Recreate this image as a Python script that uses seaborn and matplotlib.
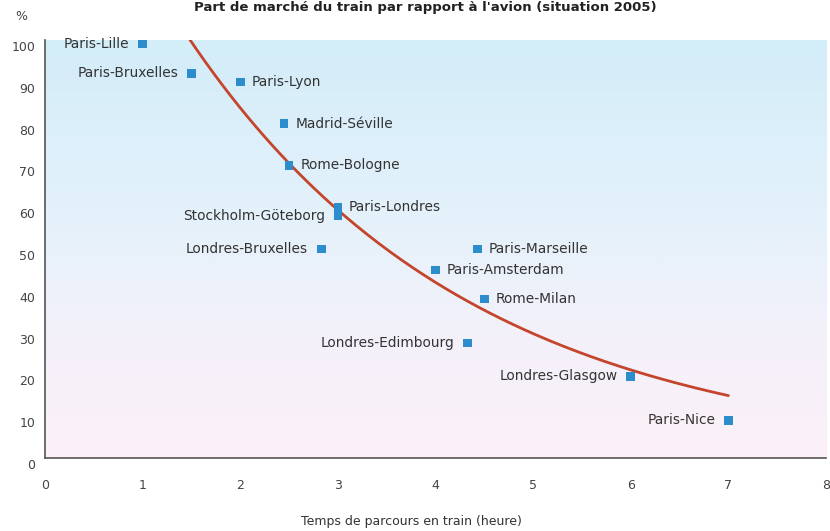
import numpy as np
import pandas as pd
import matplotlib
matplotlib.use("Agg")
import matplotlib.pyplot as plt
import matplotlib.transforms as mtransforms
from matplotlib.colors import LinearSegmentedColormap
import seaborn as sns

# Liaisons ferroviaires : temps de parcours (heures) et part de marché du train (%)
liaisons = ["Paris-Lille", "Paris-Bruxelles", "Paris-Lyon", "Madrid-Séville",
            "Rome-Bologne", "Paris-Londres", "Stockholm-Göteborg",
            "Londres-Bruxelles", "Paris-Marseille", "Paris-Amsterdam",
            "Rome-Milan", "Londres-Edimbourg", "Londres-Glasgow", "Paris-Nice"]
temps_train = [1.0, 1.5, 2.0, 2.45, 2.5, 3.0, 3.0, 2.83, 4.43, 4.0, 4.5, 4.33, 6.0, 7.0]
part_train = [99, 92, 90, 80, 70, 60, 58, 50, 50, 45, 38, 27.5, 19.5, 9]
# côté de l'étiquette : g = à gauche du point, d = à droite
cote_etiquette = ["g", "g", "d", "d", "d", "d", "g", "g", "d", "d", "d", "g", "g", "g"]

# Courbe d'ajustement exponentielle : part = a * exp(-b * temps)
courbe_a = 167.0
courbe_b = 0.345
courbe_debut, courbe_fin = 1.3, 7.0

x_ticks = list(range(0, 9))
y_ticks = list(range(0, 101, 10))

titre = "Part de marché du train par rapport à l'avion (situation 2005)"
titre_x = "Temps de parcours en train (heure)"

df = pd.DataFrame({"liaison": liaisons, "temps": temps_train, "part": part_train,
                   "cote": cote_etiquette})
t = np.linspace(courbe_debut, courbe_fin, 200)
courbe = pd.DataFrame({"temps": t, "part": courbe_a * np.exp(-courbe_b * t)})

sns.set_theme(style="white")
plt.rcParams["font.family"] = ["DejaVu Sans"]

fig = plt.figure(figsize=(8.3, 5.31), dpi=100)
ax = fig.add_axes([0.0542, 0.1375, 0.941, 0.7872])

# fond dégradé : bleu clair en haut, rose pâle en bas
fond = LinearSegmentedColormap.from_list(
    "fond", [(0.0, "#fcf0f8"), (0.3, "#f3f1fa"), (0.6, "#e3f1fb"), (1.0, "#d3edf9")])
grad = np.linspace(0, 1, 256).reshape(-1, 1)
ax.imshow(grad, cmap=fond, origin="lower", aspect="auto",
          extent=[0, 8, 0, 100], zorder=0)

sns.lineplot(data=courbe, x="temps", y="part", ax=ax, color="#c4452c",
             linewidth=2.0, zorder=2)
sns.scatterplot(data=df, x="temps", y="part", ax=ax, marker="s", s=38,
                color="#2b8dcb", edgecolor="none", zorder=3, clip_on=False)

for _, r in df.iterrows():
    if r["cote"] == "g":
        dx, ha = -9.5, "right"
    else:
        dx, ha = 8, "left"
    ax.annotate(r["liaison"], (r["temps"], r["part"]), xytext=(dx, 0),
                textcoords="offset points", ha=ha, va="center",
                fontsize=9.9, color="#333333", zorder=4)

ax.set_xlim(0, 8)
ax.set_ylim(0, 100)
ax.set_xticks(x_ticks)
ax.set_yticks(y_ticks)
ax.set_xlabel("")
ax.set_ylabel("")

for s in ["top", "right"]:
    ax.spines[s].set_visible(False)
for s in ["left", "bottom"]:
    ax.spines[s].set_color("#555555")
    ax.spines[s].set_linewidth(1.2)

ax.tick_params(axis="both", direction="in", length=7, width=1, color="#666666",
               labelsize=9, labelcolor="#444444")
ax.tick_params(axis="y", pad=7)
ax.tick_params(axis="x", pad=15)

decal = mtransforms.ScaledTranslation(0, -6 / 100, fig.dpi_scale_trans)
for tk in ax.yaxis.get_major_ticks():
    tk.label1.set_transform(tk.label1.get_transform() + decal)

fig.text(411 / 830, 1 - 521 / 531, titre_x, ha="center", va="center",
         fontsize=9, color="#333333")
fig.text(21 / 830, 1 - 16 / 531, "%", ha="center", va="center",
         fontsize=9, color="#444444")
fig.text(657 / 830, 1 - 1 / 531, titre, ha="right", va="top",
         fontsize=9.5, fontweight="bold", color="#222222")

fig.savefig("out.png", dpi=100)
